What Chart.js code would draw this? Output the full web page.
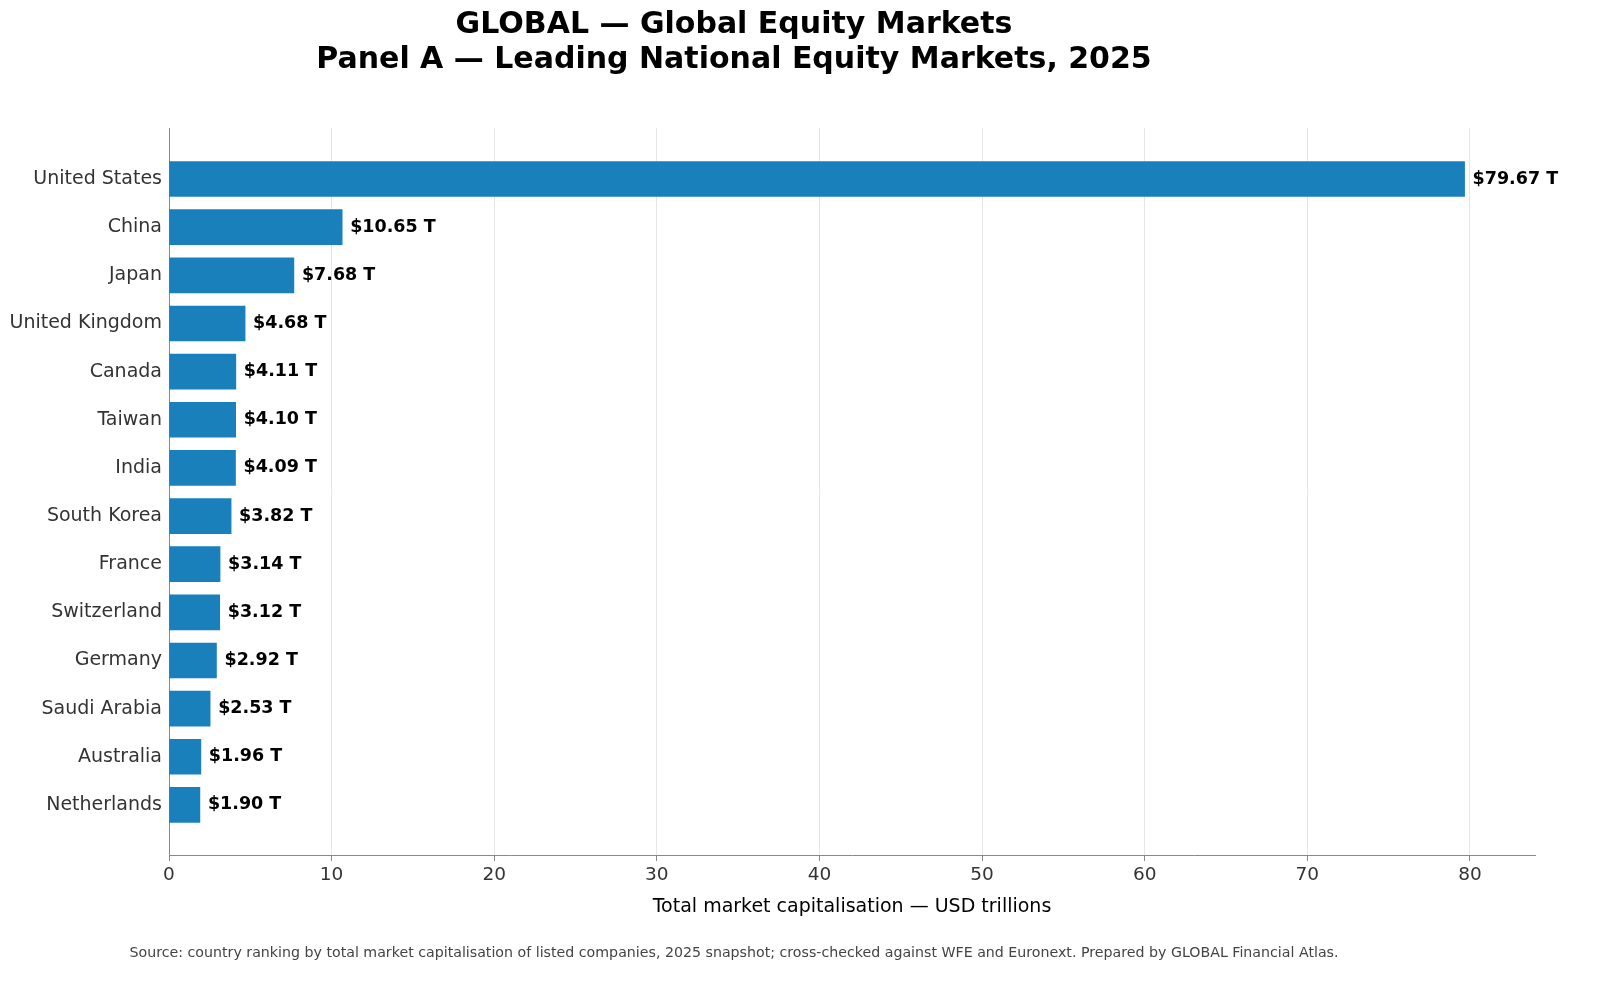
<!DOCTYPE html>
<html>
<head>
<script src="https://cdn.jsdelivr.net/npm/chart.js@4/dist/chart.umd.min.js"></script>
<style>
  body { margin: 0; background: #fff; }
  #wrap { width: 1600px; height: 992px; }
</style>
</head>
<body>
<div id="wrap"><canvas id="c" width="1600" height="992"></canvas></div>
<script>
const countries = ["United States", "China", "Japan", "United Kingdom", "Canada", "Taiwan", "India",
  "South Korea", "France", "Switzerland", "Germany", "Saudi Arabia", "Australia", "Netherlands"];
const marketCap = [79.67, 10.65, 7.68, 4.68, 4.11, 4.10, 4.09, 3.82, 3.14, 3.12, 2.92, 2.53, 1.96, 1.90];
const xTicks = [0, 10, 20, 30, 40, 50, 60, 70, 80];

const FONT = "'DejaVu Sans', sans-serif";
Chart.defaults.font.family = FONT;

// titles, value labels, axis title, footnote
const extras = {
  id: "extras",
  afterDatasetsDraw(chart) {
    const ctx = chart.ctx;
    const meta = chart.getDatasetMeta(0);
    const area = chart.chartArea;
    ctx.save();
    ctx.font = "bold 17.5px " + FONT;
    ctx.fillStyle = "#000";
    ctx.textBaseline = "middle";
    meta.data.forEach((bar, i) => {
      ctx.fillText("$" + marketCap[i].toFixed(2) + " T", bar.x + 8, bar.y);
    });
    ctx.textAlign = "center";
    ctx.font = "bold 30px " + FONT;
    ctx.fillText("GLOBAL — Global Equity Markets", 734, 25);
    ctx.fillText("Panel A — Leading National Equity Markets, 2025", 734, 60);
    ctx.font = "19px " + FONT;
    ctx.fillText("Total market capitalisation — USD trillions", (area.left + area.right) / 2, 907);
    ctx.font = "14.2px " + FONT;
    ctx.fillStyle = "#444";
    ctx.fillText("Source: country ranking by total market capitalisation of listed companies, 2025 snapshot; cross-checked against WFE and Euronext. Prepared by GLOBAL Financial Atlas.", 734, 953);
    ctx.restore();
  }
};

new Chart(document.getElementById("c"), {
  type: "bar",
  data: {
    datasets: [{
      data: marketCap.map((v, i) => ({ x: v, y: i })),
      backgroundColor: "#1a80bb",
      barThickness: 35
    }]
  },
  options: {
    indexAxis: "y",
    responsive: false,
    animation: false,
    layout: { padding: { left: 4, right: 65, top: 128, bottom: 0 } },
    plugins: { legend: { display: false }, tooltip: { enabled: false } },
    scales: {
      x: {
        type: "linear",
        min: 0, max: 84,
        afterBuildTicks: (axis) => { axis.ticks = xTicks.map(v => ({ value: v })); },
        afterFit: (axis) => { axis.height = 137; },
        grid: { color: "#e6e6e6", drawTicks: true, tickColor: "#888", tickLength: 6 },
        border: { color: "#888" },
        ticks: { color: "#333", font: { size: 18.5 }, padding: 3 }
      },
      y: {
        type: "linear",
        reverse: true,
        offset: false,
        min: -1.06, max: 14.04,
        afterBuildTicks: (axis) => { axis.ticks = countries.map((c, i) => ({ value: i })); },
        afterFit: (axis) => { axis.width = 165; },
        grid: { display: false, offset: false, drawTicks: true, tickColor: "#888", tickLength: 5 },
        border: { color: "#888" },
        ticks: { color: "#333", font: { size: 19 }, padding: 2, callback: (v) => countries[v] }
      }
    }
  },
  plugins: [extras]
});
</script>
</body>
</html>
